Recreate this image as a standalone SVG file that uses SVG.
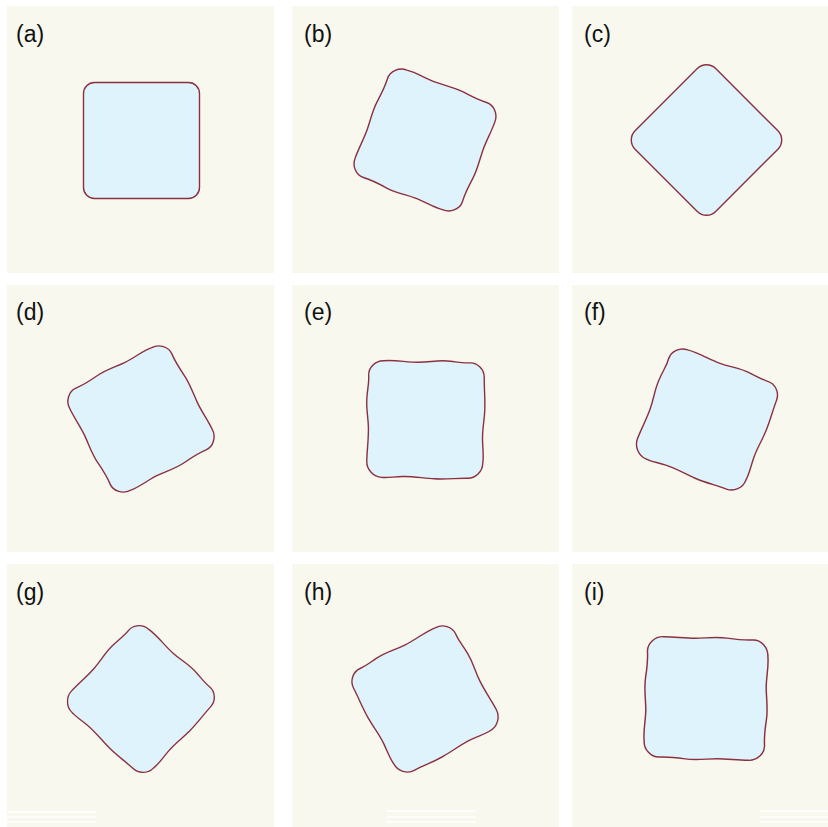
<svg xmlns="http://www.w3.org/2000/svg" width="828" height="827" viewBox="0 0 828 827">
<style>
.bg{fill:#f9f8ee}
.shape{fill:#dff3fc;stroke:#8b3040;stroke-width:1.4;vector-effect:non-scaling-stroke;stroke-linejoin:round}
.lbl{font-family:"Liberation Sans",Arial,Helvetica,sans-serif;font-size:23px;fill:#111}
.bar{stroke:#ffffff;stroke-width:1.4}
</style>
<defs>
<path id="p1" d="M -43,-58 C -33,-59.5 -22,-57 -12,-57.5 S 8,-60 18,-58.8 S 36,-57.2 43,-57.8 C 51,-58.5 58,-51 58,-43 C 58.5,-33 57,-22 57.5,-12 S 59.8,8 58.7,18 S 57.2,36 57.8,43 C 58.5,51 51,58 43,58 C 33,59.5 22,57 12,57.5 S -8,60 -18,58.8 S -36,57.2 -43,57.8 C -51,58.5 -58,51 -58,43 C -58.5,33 -57,22 -57.5,12 S -59.8,-8 -58.7,-18 S -57.2,-36 -57.8,-43 C -58.5,-51 -51,-58 -43,-58 Z"/>
<path id="p2" d="M -43,-58 C -31,-59.3 -20,-56.8 -8,-57.1 S 12,-60 24,-58.7 S 38,-57 43,-57.4 C 51,-58 58,-51 58,-43 C 58,-33 59.4,-22 59.1,-10 S 56.8,8 57.4,20 S 59,36 58,43 C 58,51 51,58 43,58 C 32,58 22,59.6 10,59.1 S -12,56.8 -22,57.4 S -38,59.3 -43,58.6 C -51,58.4 -58,51 -58,43 C -58,32 -56.6,22 -56.9,10 S -59.6,-8 -59,-20 S -56.9,-36 -57.6,-43 C -58,-51 -51,-58 -43,-58 Z"/>
</defs>
<rect width="828" height="827" fill="#ffffff"/>

<g id="panel-a">
<rect class="bg" x="7" y="6" width="267" height="267"/>
<text class="lbl" x="16" y="42">(a)</text>
<rect class="shape" x="83.5" y="82.5" width="116" height="116" rx="11"/>
</g>

<g id="panel-b">
<rect class="bg" x="292" y="6" width="267" height="267"/>
<text class="lbl" x="304" y="42">(b)</text>
<use href="#p1" class="shape" transform="translate(425,140) rotate(22)"/>
</g>

<g id="panel-c">
<rect class="bg" x="572" y="6" width="256" height="267"/>
<text class="lbl" x="584" y="42">(c)</text>
<rect class="shape" x="-57" y="-57" width="114" height="114" rx="13" transform="translate(706.5,140) rotate(45)"/>
</g>

<g id="panel-d">
<rect class="bg" x="7" y="285" width="267" height="267"/>
<text class="lbl" x="16" y="320">(d)</text>
<use href="#p1" class="shape" transform="translate(141,419) rotate(-28) scale(-1,1)"/>
</g>

<g id="panel-e">
<rect class="bg" x="292" y="285" width="267" height="267"/>
<text class="lbl" x="304" y="320">(e)</text>
<use href="#p2" class="shape" transform="translate(425.5,419.5) rotate(1)"/>
</g>

<g id="panel-f">
<rect class="bg" x="572" y="285" width="256" height="267"/>
<text class="lbl" x="584" y="320">(f)</text>
<use href="#p2" class="shape" transform="translate(707,419.5) rotate(21)"/>
</g>

<g id="panel-g">
<rect class="bg" x="7" y="564" width="267" height="263"/>
<text class="lbl" x="16" y="600">(g)</text>
<use href="#p2" class="shape" transform="translate(141,699) rotate(43) scale(0.97)"/>
<line class="bar" x1="7" y1="812" x2="96" y2="812"/>
<line class="bar" x1="7" y1="817" x2="96" y2="817"/>
<line class="bar" x1="7" y1="822" x2="96" y2="822"/>
</g>

<g id="panel-h">
<rect class="bg" x="292" y="564" width="267" height="263"/>
<text class="lbl" x="304" y="600">(h)</text>
<use href="#p2" class="shape" transform="translate(425,699) rotate(-28) scale(-1,1)"/>
<line class="bar" x1="386" y1="811" x2="476" y2="811"/>
<line class="bar" x1="386" y1="817" x2="476" y2="817"/>
<line class="bar" x1="386" y1="822" x2="476" y2="822"/>
</g>

<g id="panel-i">
<rect class="bg" x="572" y="564" width="256" height="263"/>
<text class="lbl" x="584" y="600">(i)</text>
<use href="#p1" class="shape" transform="translate(706,698.5) rotate(92) scale(1.04)"/>
<line class="bar" x1="760" y1="811" x2="828" y2="811"/>
<line class="bar" x1="760" y1="817" x2="828" y2="817"/>
<line class="bar" x1="760" y1="822" x2="828" y2="822"/>
</g>
</svg>
